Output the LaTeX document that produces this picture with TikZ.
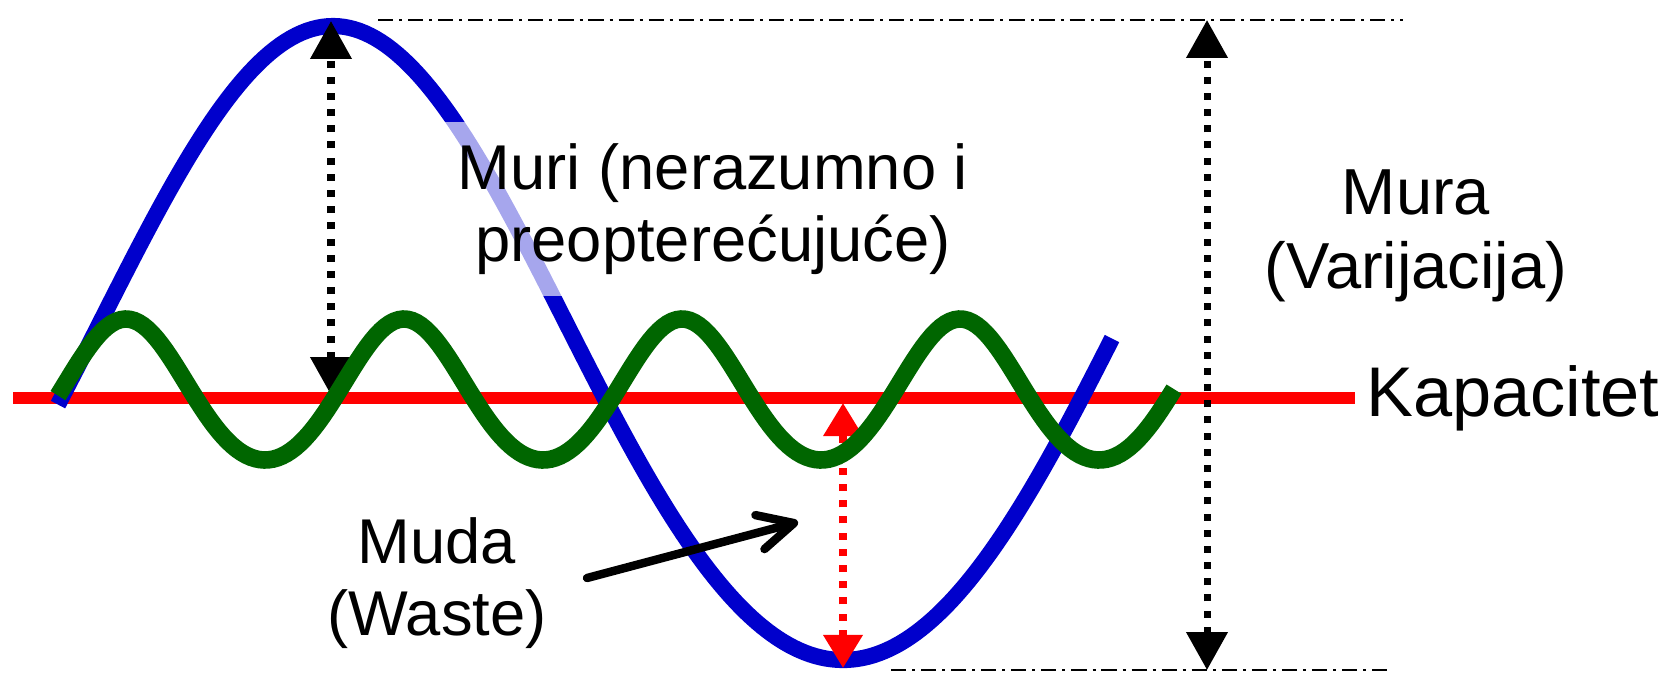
\documentclass[tikz,border=0pt]{standalone}
\usepackage{fontspec}
\setmainfont{Liberation Sans}
\usepackage{tikz}
\usetikzlibrary{arrows.meta}
\definecolor{waveblue}{RGB}{0,0,204}
\definecolor{wavegreen}{RGB}{0,102,0}

\begin{document}
\begin{tikzpicture}[x=0.01cm,y=-0.01cm,
  dotarrow/.style={line width=2pt,dash pattern=on 2pt off 2.6pt,
    {Triangle[length=10.8pt,width=11.4pt]}-{Triangle[length=10.8pt,width=11.4pt]}},
  reddot/.style={red,line width=2pt,dash pattern=on 2pt off 2.6pt,
    {Triangle[length=9.4pt,width=10.8pt]}-{Triangle[length=9.4pt,width=10.8pt]}},
  refline/.style={line width=0.6pt,dash pattern=on 4.3pt off 1.7pt on 0.85pt off 1.7pt},
  lbl/.style={inner sep=0pt,align=center}]
\useasboundingbox (0,0) rectangle (1673,675);
% capacity line
\draw[red,line width=3.4pt] (13,398)--(1355,398) node[right,black,inner sep=1.5pt,font=\fontsize{20}{22}\selectfont] (kap) {Kapacitet};
% demand (blue)
\draw[waveblue,line width=4.6pt,domain=58:1112,samples=200] plot (\x,{366-317*cos((\x-333)/510*180)-23*pow(cos((\x-333)/510*180),2)});
\node[lbl,font=\fontsize{18}{20.5}\selectfont,fill=white,fill opacity=0.65,text opacity=1,inner xsep=8pt,inner ysep=6pt] (muri) at (713,209) {Muri (nerazumno i\\preopterećujuće)};
\node[lbl,font=\fontsize{18.5}{21}\selectfont] (mura) at (1416,236) {Mura\\(Varijacija)};
\node[lbl,font=\fontsize{18}{20.5}\selectfont] (muda) at (437,583) {Muda\\(Waste)};
\coordinate (muritop) at (331,21);
\coordinate (muribot) at (331,395);
\coordinate (muratop) at (1207,20);
\coordinate (murabot) at (1207,670);
\coordinate (mudatop) at (843,403);
\coordinate (mudabot) at (843,668);
\coordinate (hiA) at (378,20);
\coordinate (hiB) at (1403,20);
\coordinate (loA) at (891,670);
\coordinate (loB) at (1388,670);
\coordinate (mudatail) at (587,578);
\coordinate (mudahead) at (798,522);
\draw[refline] (hiA)--(hiB);
\draw[refline] (loA)--(loB);
\draw[dotarrow] (muribot)--(muritop);
\draw[dotarrow] (murabot)--(muratop);
\draw[reddot] (mudabot)--(mudatop);
% leveled output (green)
\draw[wavegreen,line width=5pt,domain=58:1174,samples=250] plot (\x,{398-70.5*cos((\x-126)/278*360)-8.5*pow(cos((\x-126)/278*360),2)});
\draw[line width=2.4pt,line cap=round,-{Straight Barb[length=10pt,width=10pt,round]}] (mudatail)--(mudahead);
\end{tikzpicture}
\end{document}
